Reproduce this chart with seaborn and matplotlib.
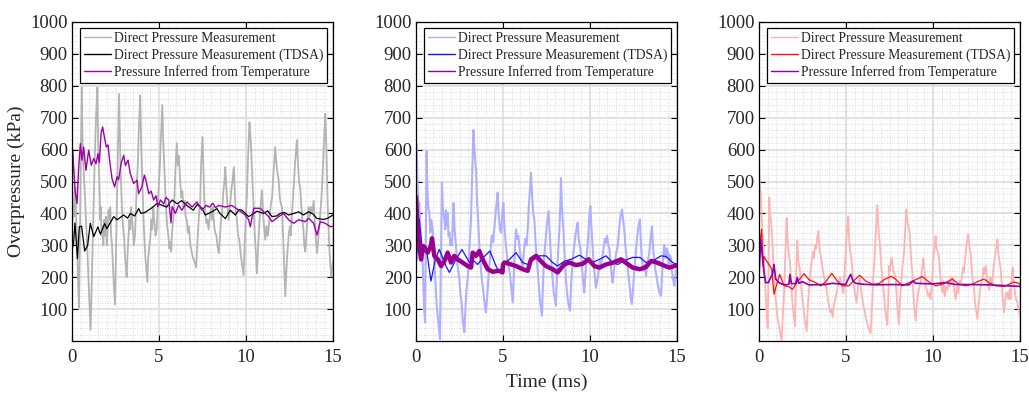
import numpy as np
import pandas as pd
import matplotlib
matplotlib.use("Agg")
import matplotlib.pyplot as plt
from matplotlib.ticker import MultipleLocator
import seaborn as sns

# ---------------- data, (time ms, kPa) ----------------
legend_labels = ["Direct Pressure Measurement",
                 "Direct Pressure Measurement (TDSA)",
                 "Pressure Inferred from Temperature"]

p1_direct = [
    (0.00, 350), (0.05, 420), (0.10, 390), (0.15, 470), (0.20, 480), (0.25, 360), (0.30, 300),
    (0.35, 180), (0.40, 105), (0.45, 300), (0.50, 550), (0.56, 795), (0.60, 640), (0.65, 560),
    (0.70, 500), (0.75, 450), (0.80, 380), (0.85, 330), (0.90, 260), (0.94, 200), (1.00, 120),
    (1.07, 35), (1.12, 150), (1.18, 280), (1.23, 400), (1.30, 560), (1.38, 700), (1.46, 795),
    (1.50, 620), (1.57, 500), (1.62, 380), (1.66, 420), (1.70, 330), (1.75, 360), (1.80, 300),
    (1.85, 380), (1.90, 330), (1.95, 390), (2.00, 300), (2.05, 350), (2.10, 410), (2.15, 380),
    (2.20, 420), (2.25, 330), (2.30, 300), (2.35, 240), (2.40, 180), (2.47, 115), (2.52, 250),
    (2.58, 420), (2.64, 600), (2.70, 775), (2.75, 650), (2.80, 520), (2.85, 450), (2.90, 380),
    (2.95, 350), (3.00, 320), (3.05, 260), (3.10, 230), (3.14, 200), (3.20, 280), (3.25, 330),
    (3.30, 380), (3.35, 350), (3.40, 420), (3.45, 380), (3.50, 350), (3.55, 300), (3.62, 330),
    (3.68, 420), (3.73, 500), (3.78, 550), (3.85, 680), (3.92, 770), (3.98, 600), (4.05, 480),
    (4.10, 400), (4.15, 330), (4.22, 260), (4.28, 220), (4.33, 185), (4.38, 260), (4.45, 300),
    (4.50, 320), (4.55, 380), (4.60, 350), (4.67, 420), (4.72, 380), (4.80, 330), (4.87, 350),
    (4.93, 430), (5.00, 500), (5.05, 550), (5.12, 650), (5.19, 740), (5.25, 620), (5.30, 550),
    (5.34, 500), (5.40, 420), (5.47, 360), (5.54, 330), (5.60, 290), (5.65, 310), (5.70, 280),
    (5.75, 340), (5.80, 370), (5.85, 400), (5.90, 470), (5.96, 560), (6.02, 620), (6.08, 550),
    (6.14, 580), (6.20, 520), (6.28, 450), (6.34, 470), (6.40, 420), (6.47, 440), (6.53, 390),
    (6.59, 380), (6.66, 340), (6.72, 360), (6.80, 300), (6.88, 280), (6.95, 260), (7.03, 250),
    (7.13, 230), (7.20, 300), (7.28, 380), (7.36, 430), (7.42, 550), (7.50, 640), (7.56, 520),
    (7.60, 450), (7.66, 400), (7.72, 370), (7.78, 380), (7.85, 350), (7.92, 390), (8.00, 420),
    (8.05, 380), (8.10, 420), (8.17, 360), (8.23, 340), (8.30, 330), (8.36, 300), (8.43, 275),
    (8.50, 320), (8.56, 380), (8.62, 400), (8.70, 470), (8.76, 500), (8.81, 545), (8.87, 480),
    (8.94, 420), (9.00, 380), (9.08, 420), (9.15, 470), (9.22, 500), (9.30, 545), (9.36, 460),
    (9.42, 400), (9.48, 380), (9.55, 330), (9.60, 320), (9.65, 300), (9.72, 260), (9.80, 230),
    (9.86, 207), (9.92, 290), (9.98, 380), (10.05, 450), (10.12, 580), (10.20, 686), (10.25, 650),
    (10.30, 600), (10.37, 500), (10.44, 420), (10.50, 340), (10.56, 280), (10.63, 212),
    (10.70, 300), (10.78, 380), (10.85, 430), (10.92, 473), (10.98, 400), (11.05, 350),
    (11.11, 317), (11.18, 360), (11.24, 330), (11.30, 350), (11.37, 400), (11.44, 430),
    (11.50, 450), (11.57, 520), (11.62, 560), (11.68, 608), (11.74, 560), (11.80, 530),
    (11.88, 504), (11.94, 450), (12.00, 430), (12.07, 420), (12.12, 350), (12.18, 260),
    (12.26, 140), (12.32, 220), (12.37, 270), (12.41, 300), (12.47, 340), (12.53, 360),
    (12.58, 330), (12.64, 400), (12.70, 450), (12.76, 500), (12.82, 560), (12.88, 600),
    (12.93, 630), (12.98, 560), (13.05, 500), (13.12, 480), (13.18, 420), (13.24, 380),
    (13.30, 350), (13.35, 300), (13.41, 280), (13.47, 330), (13.53, 380), (13.60, 420),
    (13.67, 390), (13.73, 420), (13.80, 400), (13.89, 440), (13.95, 380), (14.01, 320),
    (14.08, 275), (14.14, 310), (14.20, 350), (14.25, 380), (14.30, 420), (14.37, 480),
    (14.43, 560), (14.50, 650), (14.56, 712), (14.62, 600), (14.67, 480), (14.71, 400),
    (14.76, 330), (14.82, 260), (14.90, 202), (14.95, 230), (15.00, 250)]

p1_tdsa = [
    (0, 290), (0.08, 300), (0.17, 370), (0.31, 258), (0.42, 358), (0.55, 360), (0.73, 282),
    (0.9, 300), (1.05, 369), (1.25, 327), (1.49, 358), (1.63, 335), (1.88, 368), (2.0, 352),
    (2.4, 390), (2.59, 380), (2.97, 395), (3.2, 385), (3.35, 400), (3.6, 392), (3.83, 415),
    (3.97, 400), (4.2, 403), (4.6, 418), (4.89, 431), (5.2, 425), (5.44, 420), (5.75, 442),
    (6.05, 430), (6.3, 440), (6.6, 425), (6.97, 410), (7.2, 428), (7.47, 416), (7.66, 395),
    (8.04, 405), (8.33, 415), (8.5, 400), (8.81, 384), (9.1, 410), (9.39, 395), (9.6, 412),
    (9.77, 410), (10.15, 390), (10.4, 398), (10.63, 407), (11.01, 400), (11.25, 408),
    (11.49, 390), (11.76, 392), (11.97, 400), (12.2, 403), (12.45, 395), (12.75, 400),
    (13.03, 405), (13.3, 395), (13.6, 405), (13.85, 398), (14.08, 384), (14.46, 381),
    (14.7, 385), (14.85, 390), (15.0, 395)]

p1_temp = [
    (0, 200), (0.03, 600), (0.08, 560), (0.18, 470), (0.29, 431), (0.38, 540), (0.48, 619),
    (0.57, 567), (0.67, 608), (0.8, 535), (0.96, 598), (1.11, 551), (1.25, 572), (1.38, 556),
    (1.49, 587), (1.57, 560), (1.67, 650), (1.76, 671), (1.86, 640), (1.97, 608), (2.07, 615),
    (2.16, 567), (2.3, 509), (2.45, 483), (2.59, 515), (2.68, 505), (2.82, 556), (2.97, 582),
    (3.07, 550), (3.22, 567), (3.35, 525), (3.54, 494), (3.74, 504), (3.83, 462), (4.02, 483),
    (4.16, 520), (4.25, 504), (4.41, 462), (4.55, 470), (4.69, 442), (4.83, 455), (4.94, 421),
    (5.08, 442), (5.27, 430), (5.4, 450), (5.56, 442), (5.69, 370), (5.75, 421), (5.94, 400),
    (6.13, 426), (6.32, 410), (6.61, 436), (6.9, 420), (7.18, 436), (7.47, 410), (7.7, 425),
    (7.9, 420), (8.1, 432), (8.24, 418), (8.43, 425), (8.81, 420), (9.19, 425), (9.58, 410),
    (9.96, 395), (10.15, 380), (10.25, 358), (10.44, 416), (10.82, 416), (11.11, 400),
    (11.3, 390), (11.49, 374), (11.88, 390), (12.16, 400), (12.45, 380), (12.74, 369),
    (13.03, 380), (13.41, 374), (13.6, 385), (13.89, 369), (14.08, 332), (14.27, 374),
    (14.56, 369), (14.85, 358), (15.0, 360)]

p2_direct = [
    (0.00, 300), (0.02, 620), (0.06, 560), (0.10, 470), (0.15, 420), (0.19, 433), (0.24, 360),
    (0.29, 300), (0.33, 250), (0.38, 256), (0.42, 180), (0.47, 100), (0.52, 58), (0.56, 300),
    (0.61, 595), (0.65, 480), (0.70, 420), (0.77, 402), (0.82, 340), (0.88, 380), (0.96, 350),
    (1.00, 300), (1.05, 256), (1.10, 200), (1.15, 150), (1.19, 110), (1.25, 80), (1.30, 50),
    (1.38, 6), (1.43, 250), (1.49, 496), (1.54, 420), (1.58, 400), (1.63, 381), (1.68, 350),
    (1.72, 410), (1.77, 360), (1.82, 402), (1.87, 330), (1.92, 340), (1.97, 300), (2.02, 320),
    (2.07, 300), (2.12, 380), (2.16, 433), (2.22, 350), (2.30, 298), (2.36, 250), (2.43, 220),
    (2.49, 194), (2.55, 150), (2.62, 120), (2.70, 60), (2.78, 27), (2.84, 100), (2.90, 160),
    (2.97, 194), (3.03, 250), (3.10, 320), (3.16, 381), (3.22, 500), (3.30, 662), (3.36, 600),
    (3.41, 560), (3.45, 538), (3.50, 450), (3.57, 380), (3.64, 298), (3.70, 250), (3.77, 200),
    (3.83, 173), (3.90, 140), (3.96, 110), (4.02, 90), (4.08, 130), (4.14, 180), (4.21, 235),
    (4.28, 280), (4.35, 330), (4.43, 310), (4.50, 350), (4.57, 400), (4.63, 430), (4.69, 465),
    (4.75, 400), (4.82, 350), (4.89, 340), (4.95, 390), (5.02, 433), (5.08, 360), (5.12, 330),
    (5.17, 298), (5.24, 260), (5.30, 240), (5.36, 225), (5.42, 200), (5.49, 160), (5.56, 121),
    (5.62, 200), (5.68, 290), (5.75, 350), (5.82, 320), (5.88, 330), (5.94, 298), (6.00, 270),
    (6.06, 250), (6.13, 235), (6.20, 280), (6.28, 320), (6.35, 300), (6.42, 350), (6.48, 420),
    (6.55, 480), (6.61, 527), (6.67, 460), (6.74, 400), (6.80, 381), (6.86, 320), (6.93, 260),
    (6.99, 225), (7.05, 180), (7.12, 130), (7.18, 100), (7.24, 79), (7.30, 180), (7.36, 260),
    (7.42, 300), (7.47, 330), (7.53, 370), (7.58, 390), (7.62, 407), (7.68, 340), (7.74, 280),
    (7.80, 230), (7.85, 194), (7.92, 150), (7.98, 130), (8.04, 110), (8.10, 200), (8.17, 280),
    (8.24, 350), (8.29, 420), (8.33, 511), (8.38, 430), (8.43, 380), (8.47, 350), (8.53, 280),
    (8.58, 230), (8.62, 194), (8.68, 150), (8.75, 120), (8.85, 95), (8.92, 180), (9.00, 250),
    (9.05, 280), (9.10, 300), (9.16, 330), (9.22, 350), (9.29, 371), (9.35, 320), (9.42, 300),
    (9.48, 278), (9.54, 230), (9.60, 190), (9.67, 152), (9.73, 200), (9.80, 260), (9.86, 298),
    (9.92, 350), (9.97, 400), (10.02, 423), (10.08, 360), (10.15, 298), (10.21, 240),
    (10.28, 200), (10.34, 167), (10.42, 190), (10.50, 220), (10.56, 250), (10.63, 235),
    (10.70, 260), (10.78, 290), (10.85, 320), (10.92, 308), (10.98, 330), (11.05, 300),
    (11.11, 290), (11.17, 250), (11.24, 210), (11.30, 183), (11.37, 220), (11.44, 250),
    (11.52, 280), (11.59, 298), (11.66, 340), (11.72, 380), (11.78, 400), (11.84, 412),
    (11.90, 380), (11.97, 350), (12.03, 300), (12.10, 260), (12.16, 235), (12.22, 200),
    (12.30, 160), (12.35, 130), (12.41, 116), (12.48, 170), (12.56, 230), (12.64, 278),
    (12.70, 320), (12.76, 350), (12.82, 370), (12.87, 381), (12.93, 300), (12.98, 260),
    (13.03, 235), (13.10, 220), (13.16, 240), (13.22, 204), (13.28, 240), (13.35, 260),
    (13.41, 277), (13.48, 320), (13.56, 360), (13.62, 300), (13.68, 260), (13.75, 225),
    (13.83, 200), (13.92, 170), (14.00, 150), (14.08, 142), (14.14, 200), (14.20, 260),
    (14.27, 302), (14.33, 260), (14.40, 290), (14.46, 280), (14.52, 240), (14.58, 270),
    (14.65, 260), (14.71, 220), (14.78, 190), (14.85, 173), (14.90, 200), (14.95, 220),
    (15.00, 236)]

p2_tdsa = [
    (0, 220), (0.15, 374), (0.19, 381), (0.38, 277), (0.57, 298), (0.86, 188), (1.11, 256),
    (1.34, 287), (1.72, 235), (1.92, 215), (2.3, 256), (2.64, 287), (3.07, 246), (3.35, 250),
    (3.54, 240), (3.83, 260), (4.25, 282), (4.6, 235), (4.79, 215), (5.08, 246), (5.36, 255),
    (5.75, 277), (6.13, 246), (6.42, 240), (6.8, 256), (7.09, 267), (7.47, 267), (7.85, 246),
    (8.14, 235), (8.52, 250), (8.91, 256), (9.39, 269), (9.77, 256), (10.15, 246), (10.54, 256),
    (10.92, 267), (11.3, 246), (11.59, 240), (11.97, 252), (12.45, 262), (12.87, 262),
    (13.22, 246), (13.6, 251), (14.08, 267), (14.37, 265), (14.75, 246), (15.0, 240)]

p2_temp = [
    (0, 452), (0.1, 350), (0.19, 298), (0.29, 256), (0.42, 298), (0.67, 277), (0.86, 300),
    (0.92, 322), (1.05, 267), (1.25, 256), (1.44, 235), (1.63, 250), (1.82, 277), (2.01, 246),
    (2.2, 267), (2.39, 256), (2.68, 246), (2.97, 235), (3.16, 230), (3.26, 277), (3.45, 267),
    (3.64, 282), (3.83, 256), (4.12, 225), (4.41, 217), (4.79, 220), (4.97, 215), (5.0, 240),
    (5.08, 246), (5.36, 242), (5.75, 235), (6.13, 225), (6.42, 220), (6.61, 256), (6.9, 267),
    (7.18, 250), (7.47, 235), (7.85, 225), (8.14, 215), (8.52, 240), (8.81, 246), (9.19, 238),
    (9.58, 242), (9.92, 256), (10.25, 235), (10.54, 230), (10.92, 240), (11.3, 245),
    (11.78, 256), (12.07, 245), (12.45, 230), (12.87, 225), (13.22, 232), (13.52, 251),
    (13.9, 245), (14.18, 238), (14.56, 230), (14.85, 235), (15.0, 238)]

p3_direct = [
    (0.00, 580), (0.03, 520), (0.07, 470), (0.10, 470), (0.14, 400), (0.18, 360), (0.22, 320),
    (0.25, 300), (0.30, 230), (0.35, 180), (0.40, 130), (0.45, 80), (0.50, 40), (0.55, 250),
    (0.59, 450), (0.63, 400), (0.68, 380), (0.73, 350), (0.78, 300), (0.85, 220), (0.92, 150),
    (1.00, 110), (1.05, 80), (1.11, 60), (1.18, 40), (1.24, 20), (1.30, 0), (1.37, 80),
    (1.44, 150), (1.50, 250), (1.55, 330), (1.59, 385), (1.64, 320), (1.70, 280), (1.78, 250),
    (1.85, 180), (1.92, 120), (2.00, 80), (2.07, 45), (2.13, 200), (2.20, 315), (2.26, 250),
    (2.33, 230), (2.39, 200), (2.46, 150), (2.54, 110), (2.62, 70), (2.68, 50), (2.74, 30),
    (2.82, 120), (2.90, 180), (2.96, 220), (3.03, 250), (3.10, 280), (3.16, 260), (3.22, 300),
    (3.28, 290), (3.34, 320), (3.41, 345), (3.47, 290), (3.54, 270), (3.60, 250), (3.67, 220),
    (3.74, 200), (3.82, 180), (3.89, 160), (3.96, 130), (4.03, 110), (4.10, 90), (4.16, 100),
    (4.23, 75), (4.30, 110), (4.38, 130), (4.46, 150), (4.52, 170), (4.60, 190), (4.66, 200),
    (4.72, 180), (4.80, 160), (4.85, 150), (4.92, 220), (5.00, 300), (5.06, 350), (5.13, 390),
    (5.18, 320), (5.24, 280), (5.33, 250), (5.40, 200), (5.47, 170), (5.54, 140), (5.61, 120),
    (5.68, 160), (5.74, 190), (5.80, 200), (5.87, 160), (5.94, 130), (6.00, 110), (6.05, 100),
    (6.12, 80), (6.20, 60), (6.30, 40), (6.36, 30), (6.42, 25), (6.50, 120), (6.57, 200),
    (6.64, 260), (6.70, 320), (6.75, 380), (6.80, 425), (6.85, 370), (6.90, 330), (6.95, 300),
    (7.02, 240), (7.10, 190), (7.18, 150), (7.25, 100), (7.32, 70), (7.38, 50), (7.44, 150),
    (7.47, 235), (7.52, 220), (7.56, 240), (7.61, 261), (7.66, 250), (7.72, 220), (7.78, 210),
    (7.85, 200), (7.90, 150), (7.96, 100), (8.04, 53), (8.10, 120), (8.17, 180), (8.24, 230),
    (8.30, 260), (8.33, 270), (8.40, 350), (8.47, 412), (8.52, 380), (8.58, 360), (8.66, 340),
    (8.72, 280), (8.77, 240), (8.81, 215), (8.86, 160), (8.93, 100), (9.00, 64), (9.07, 110),
    (9.15, 150), (9.22, 170), (9.29, 180), (9.35, 220), (9.40, 240), (9.44, 260), (9.50, 230),
    (9.55, 190), (9.58, 170), (9.65, 160), (9.72, 140), (9.80, 150), (9.86, 131), (9.92, 170),
    (9.98, 220), (10.05, 280), (10.10, 300), (10.15, 329), (10.20, 290), (10.27, 280),
    (10.34, 267), (10.40, 220), (10.47, 180), (10.54, 152), (10.60, 190), (10.67, 140),
    (10.74, 170), (10.82, 160), (10.88, 190), (10.95, 170), (11.02, 200), (11.08, 180),
    (11.15, 200), (11.22, 160), (11.30, 131), (11.38, 170), (11.45, 150), (11.52, 190),
    (11.59, 180), (11.66, 200), (11.72, 230), (11.78, 215), (11.85, 260), (11.92, 300),
    (11.98, 320), (12.03, 334), (12.08, 300), (12.12, 290), (12.16, 276), (12.22, 230),
    (12.28, 190), (12.36, 161), (12.42, 120), (12.50, 90), (12.55, 69), (12.62, 110),
    (12.70, 160), (12.77, 180), (12.84, 194), (12.90, 230), (12.96, 210), (13.03, 236),
    (13.10, 200), (13.16, 180), (13.22, 161), (13.30, 200), (13.36, 190), (13.41, 180),
    (13.48, 230), (13.55, 260), (13.62, 290), (13.66, 300), (13.70, 319), (13.75, 280),
    (13.82, 250), (13.89, 225), (13.95, 180), (14.01, 130), (14.08, 90), (14.14, 120),
    (14.20, 150), (14.27, 152), (14.33, 130), (14.40, 160), (14.46, 131), (14.52, 200),
    (14.58, 230), (14.65, 173), (14.72, 150), (14.78, 130), (14.85, 121), (14.90, 100),
    (14.95, 90), (15.00, 79)]

p3_tdsa = [
    (0, 300), (0.1, 329), (0.15, 350), (0.23, 235), (0.29, 265), (0.38, 256), (0.57, 240),
    (0.73, 225), (0.86, 147), (1.05, 183), (1.19, 209), (1.44, 173), (1.72, 170), (1.92, 162),
    (2.2, 185), (2.59, 211), (2.87, 192), (3.26, 183), (3.54, 173), (3.83, 185), (4.18, 212),
    (4.5, 188), (4.79, 173), (5.17, 173), (5.46, 190), (5.79, 206), (6.13, 188), (6.51, 178),
    (6.9, 180), (7.18, 192), (7.6, 203), (7.85, 194), (8.24, 173), (8.62, 183), (9.0, 192),
    (9.39, 202), (9.77, 185), (10.15, 173), (10.54, 178), (10.92, 188), (11.11, 194),
    (11.49, 178), (11.88, 173), (12.26, 178), (12.64, 188), (12.93, 194), (13.22, 183),
    (13.6, 173), (14.08, 171), (14.37, 178), (14.65, 185), (14.94, 181), (15.0, 175)]

p3_temp = [
    (0, 204), (0.1, 319), (0.19, 267), (0.29, 215), (0.38, 183), (0.54, 183), (0.67, 199),
    (0.77, 209), (0.86, 240), (0.96, 194), (1.15, 183), (1.34, 178), (1.53, 176), (1.72, 178),
    (1.78, 209), (1.86, 180), (2.11, 180), (2.2, 199), (2.3, 181), (2.49, 186), (2.87, 176),
    (3.83, 177), (4.21, 181), (4.98, 177), (5.17, 199), (5.27, 209), (5.4, 188), (5.56, 181),
    (5.94, 178), (6.7, 176), (7.59, 177), (8.62, 176), (8.85, 188), (9.0, 181), (9.96, 179),
    (10.73, 183), (11.3, 177), (12.07, 177), (13.22, 176), (15.0, 171)]

x_ticks = [0, 5, 10, 15]
y_ticks = [100, 200, 300, 400, 500, 600, 700, 800, 900, 1000]

# ---------------- styling ----------------
sns.set_theme(style="ticks")
plt.rcParams["font.family"] = ["Liberation Serif", "DejaVu Serif"]

panels = [
    [(p1_direct, "#b4b4b4", 1.3),
     (p1_tdsa, "#000000", 0.9),
     (p1_temp, "#a000a8", 1.0)],
    [(p2_direct, "#b0b0ff", 1.5),
     (p2_tdsa, "#1414ff", 0.9),
     (p2_temp, "#990090", 3.2)],
    [(p3_direct, "#ffb4b4", 1.3),
     (p3_tdsa, "#ff1010", 0.9),
     (p3_temp, "#8a00b0", 1.2)],
]

fig = plt.figure(figsize=(10.29, 3.94), dpi=100)
lefts = [72 / 1029, 416 / 1029, 759 / 1029]
bottom = 1 - 341 / 394
height = (341 - 22) / 394
width = 261 / 1029

for i, series in enumerate(panels):
    ax = fig.add_axes([lefts[i], bottom, width, height])
    ax.set_axisbelow(True)
    for (pts, color, lw), lab in zip(series, legend_labels):
        df = pd.DataFrame(pts, columns=["t", "v"])
        sns.lineplot(data=df, x="t", y="v", ax=ax, color=color, lw=lw,
                     sort=False, estimator=None, label=lab)
    ax.set_xlim(0, 15)
    ax.set_ylim(0, 1000)
    ax.set_xticks(x_ticks)
    ax.set_yticks(y_ticks)
    ax.xaxis.set_minor_locator(MultipleLocator(0.5))
    ax.yaxis.set_minor_locator(MultipleLocator(20))
    ax.grid(which="major", color="#dedede", lw=1.3, ls="-")
    ax.grid(which="minor", color="#cfcfcf", lw=0.6, ls=(0, (1, 2)))
    ax.tick_params(which="major", direction="in", top=True, right=True, length=4,
                   width=0.8, labelsize=13.5, color="black")
    ax.tick_params(axis="x", which="major", pad=6)
    ax.tick_params(axis="y", which="major", pad=3)
    ax.tick_params(which="minor", length=0)
    for s in ax.spines.values():
        s.set_color("black")
        s.set_linewidth(0.9)
    ax.set_xlabel("")
    ax.set_ylabel("")
    leg = ax.legend(loc="upper left", bbox_to_anchor=(0.03, 0.982), borderaxespad=0,
                    fontsize=9.8, frameon=True, fancybox=False, framealpha=1,
                    edgecolor="black", handlelength=2.0, handletextpad=0.2,
                    labelspacing=0.25, borderpad=0.3)
    leg.get_frame().set_linewidth(0.9)
    for h in leg.get_lines():
        h.set_linewidth(1.0)
    if i == 0:
        ax.set_ylabel("Overpressure (kPa)", fontsize=14, labelpad=4)
    if i == 1:
        ax.set_xlabel("Time (ms)", fontsize=14, labelpad=5)

fig.savefig("out.png", dpi=100)
